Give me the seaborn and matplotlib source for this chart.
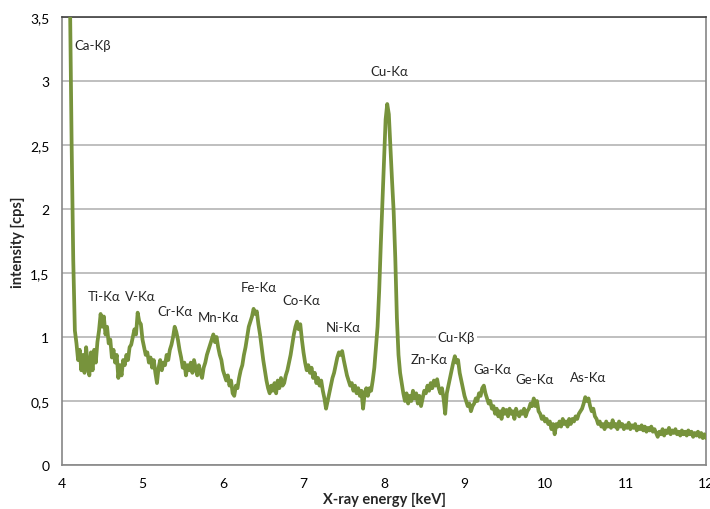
import numpy as np
import pandas as pd
import seaborn as sns
import matplotlib.pyplot as plt
from matplotlib.ticker import MultipleLocator, FuncFormatter

# spectrum, one channel every 0.02 keV from 4.08 keV
e_start = 4.08
e_step = 0.02
intensity = [
    4.60, 3.60, 2.50, 1.60, 1.05, 0.95, 0.82, 0.90, 0.74, 0.86,
    0.72, 0.92, 0.78, 0.70, 0.88, 0.74, 0.90, 0.80, 0.96, 1.05,
    1.18, 1.08, 1.16, 1.02, 1.08, 0.95, 0.98, 0.84, 0.90, 0.80,
    0.86, 0.68, 0.78, 0.70, 0.82, 0.78, 0.86, 0.82, 0.92, 0.94,
    1.00, 1.06, 1.02, 1.19, 1.12, 1.10, 0.98, 0.92, 0.86, 0.88,
    0.80, 0.84, 0.76, 0.82, 0.72, 0.64, 0.76, 0.82, 0.74, 0.80,
    0.78, 0.86, 0.82, 0.90, 0.94, 1.00, 1.08, 1.04, 0.98, 0.90,
    0.84, 0.76, 0.80, 0.70, 0.78, 0.74, 0.80, 0.72, 0.82, 0.76,
    0.70, 0.78, 0.72, 0.68, 0.76, 0.80, 0.86, 0.90, 0.94, 0.98,
    1.02, 0.96, 1.00, 0.92, 0.86, 0.82, 0.74, 0.70, 0.66, 0.70,
    0.62, 0.66, 0.56, 0.54, 0.62, 0.60, 0.68, 0.74, 0.78, 0.86,
    0.92, 1.00, 1.08, 1.12, 1.16, 1.22, 1.18, 1.20, 1.10, 1.02,
    0.92, 0.82, 0.74, 0.66, 0.60, 0.56, 0.62, 0.58, 0.64, 0.56,
    0.66, 0.60, 0.68, 0.62, 0.64, 0.70, 0.74, 0.80, 0.86, 0.94,
    1.02, 1.08, 1.12, 1.06, 1.10, 0.98, 0.88, 0.80, 0.74, 0.78,
    0.72, 0.76, 0.68, 0.72, 0.64, 0.68, 0.62, 0.66, 0.58, 0.52,
    0.44, 0.50, 0.56, 0.62, 0.68, 0.72, 0.78, 0.84, 0.88, 0.86,
    0.89, 0.82, 0.76, 0.70, 0.66, 0.62, 0.64, 0.58, 0.62, 0.56,
    0.60, 0.54, 0.58, 0.44, 0.56, 0.60, 0.54, 0.60, 0.58, 0.66,
    0.76, 0.92, 1.08, 1.36, 1.72, 2.05, 2.40, 2.70, 2.82, 2.74,
    2.48, 2.22, 1.98, 1.62, 1.15, 0.86, 0.72, 0.64, 0.56, 0.50,
    0.56, 0.48, 0.54, 0.50, 0.58, 0.52, 0.56, 0.48, 0.54, 0.46,
    0.52, 0.58, 0.56, 0.62, 0.58, 0.64, 0.60, 0.66, 0.62, 0.67,
    0.60, 0.56, 0.60, 0.52, 0.40, 0.56, 0.62, 0.68, 0.74, 0.80,
    0.85, 0.80, 0.82, 0.72, 0.66, 0.60, 0.54, 0.50, 0.46, 0.48,
    0.42, 0.46, 0.48, 0.52, 0.50, 0.56, 0.54, 0.60, 0.62, 0.56,
    0.52, 0.48, 0.50, 0.44, 0.46, 0.40, 0.44, 0.38, 0.42, 0.36,
    0.44, 0.40, 0.43, 0.38, 0.44, 0.40, 0.42, 0.36, 0.44, 0.40,
    0.38, 0.42, 0.40, 0.44, 0.38, 0.42, 0.44, 0.48, 0.46, 0.52,
    0.46, 0.50, 0.42, 0.40, 0.36, 0.38, 0.34, 0.36, 0.32, 0.34,
    0.28, 0.32, 0.24, 0.32, 0.30, 0.34, 0.30, 0.36, 0.32, 0.34,
    0.30, 0.36, 0.32, 0.36, 0.34, 0.38, 0.36, 0.40, 0.42, 0.44,
    0.48, 0.53, 0.50, 0.52, 0.46, 0.42, 0.44, 0.38, 0.36, 0.32,
    0.34, 0.30, 0.32, 0.28, 0.34, 0.30, 0.32, 0.29, 0.35, 0.30,
    0.32, 0.28, 0.34, 0.30, 0.32, 0.28, 0.31, 0.29, 0.33, 0.28,
    0.31, 0.29, 0.32, 0.27, 0.30, 0.28, 0.31, 0.27, 0.30, 0.26,
    0.29, 0.27, 0.30, 0.26, 0.28, 0.25, 0.22, 0.26, 0.24, 0.28,
    0.23, 0.27, 0.25, 0.29, 0.24, 0.27, 0.25, 0.28, 0.24, 0.26,
    0.23, 0.27, 0.24, 0.26, 0.23, 0.27, 0.24, 0.26, 0.22, 0.25,
    0.23, 0.26, 0.22, 0.25, 0.21, 0.24, 0.21,
]

# peak labels and where they sit
peak_names = ["Ca-K\u03b2", "Ti-K\u03b1", "V-K\u03b1", "Cr-K\u03b1", "Mn-K\u03b1",
              "Fe-K\u03b1", "Co-K\u03b1", "Ni-K\u03b1", "Cu-K\u03b1", "Zn-K\u03b1",
              "Cu-K\u03b2", "Ga-K\u03b1", "Ge-K\u03b1", "As-K\u03b1"]
peak_x = [4.41, 4.52, 4.97, 5.40, 5.94, 6.44, 6.97, 7.49, 8.07, 8.56, 8.90, 9.35, 9.87, 10.53]
peak_y = [3.28, 1.32, 1.32, 1.20, 1.16, 1.39, 1.29, 1.08, 3.08, 0.83, 1.00, 0.75, 0.67, 0.69]

energy = np.round(e_start + e_step * np.arange(len(intensity)), 2)
df = pd.DataFrame({"energy": energy, "intensity": intensity})

sns.set_style("white")
plt.rcParams['font.family'] = ['Lato', 'DejaVu Sans']

fig = plt.figure(figsize=(7.1, 5.1), dpi=100)
ax = fig.add_axes([0.0873, 0.0863, 0.9071, 0.8784])

sns.lineplot(data=df, x="energy", y="intensity", ax=ax, color="#77933C",
             linewidth=2.7, zorder=3)

ax.set_xlim(4, 12)
ax.set_ylim(0, 3.5)
ax.xaxis.set_major_locator(MultipleLocator(1))
ax.xaxis.set_minor_locator(MultipleLocator(0.2))
ax.yaxis.set_major_locator(MultipleLocator(0.5))
ax.yaxis.set_minor_locator(MultipleLocator(0.1))
ax.yaxis.set_major_formatter(FuncFormatter(lambda v, p: f"{v:g}".replace(".", ",")))
ax.grid(axis="y", which="major", color="#b4b4b4", linewidth=1.2)
ax.set_axisbelow(True)

ax.tick_params(which="both", direction="in", colors="#868686", labelcolor="black",
               labelsize=10)
ax.tick_params(which="major", length=5, width=1)
ax.tick_params(which="minor", length=3, width=1)
ax.tick_params(axis="x", pad=9)
ax.tick_params(axis="y", pad=9)

for side in ["left", "bottom", "right"]:
    ax.spines[side].set_color("#868686")
    ax.spines[side].set_linewidth(1.2)
ax.spines["top"].set_color("#404040")
ax.spines["top"].set_linewidth(1.2)

ax.set_xlabel("X-ray energy [keV]", fontsize=10.5, fontweight="bold", labelpad=2)
ax.set_ylabel("intensity [cps]", fontsize=10.5, fontweight="bold", labelpad=4)

for name, px, py in zip(peak_names, peak_x, peak_y):
    if name == "Cu-K\u03b2":
        ax.text(px, py, name, ha="center", va="center", fontsize=9.5, zorder=4,
                bbox=dict(facecolor="white", edgecolor="none", pad=1.5))
    elif name == "Ca-K\u03b2":
        ax.text(4.15, py, name, ha="left", va="center", fontsize=9.5, zorder=4)
    else:
        ax.text(px, py, name, ha="center", va="center", fontsize=9.5, zorder=4)

fig.savefig("out.png", dpi=100)
